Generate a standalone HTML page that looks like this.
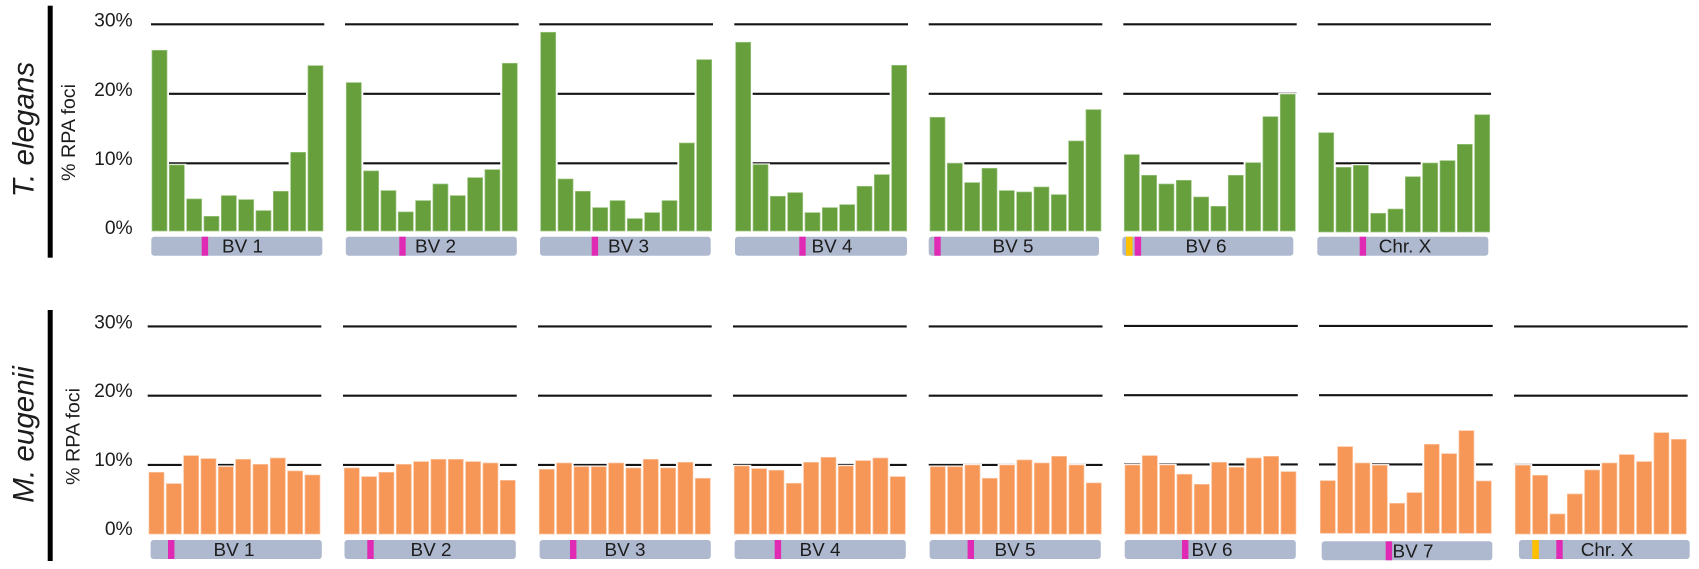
<!DOCTYPE html>
<html lang="en">
<head>
<meta charset="utf-8">
<title>RPA foci distribution across chromosomes</title>
<style>
html,body{margin:0;padding:0;background:#fff;width:1699px;height:569px;overflow:hidden}
svg{display:block}
text{font-family:"Liberation Sans",sans-serif;fill:#1c1c1c}
</style>
</head>
<body>
<svg id="chart" xmlns="http://www.w3.org/2000/svg" width="1699" height="569" viewBox="0 0 1699 569">
  <rect x="47.7" y="5.7" width="5" height="252" fill="#000"/>
  <rect x="47.7" y="310" width="5" height="251" fill="#000"/>
  <text transform="translate(33.3,197.3) rotate(-90)" font-size="29.6" font-style="italic">T. elegans</text>
  <text transform="translate(33.3,502.7) rotate(-90)" font-size="29.6" font-style="italic">M. eugenii</text>
  <text transform="translate(75,181) rotate(-90)" font-size="19.7">% RPA foci</text>
  <text transform="translate(79.3,485) rotate(-90)" font-size="19.7">% RPA foci</text>
</svg>
<script>
// ---- data: % RPA foci per bin ----
const tickValues = [0, 10, 20, 30];
const tickLabels = ['0%', '10%', '20%', '30%'];

const elegansNames = ['BV 1', 'BV 2', 'BV 3', 'BV 4', 'BV 5', 'BV 6', 'Chr. X'];
const elegansBV1 = [26.26, 9.76, 4.87, 2.37, 5.35, 4.77, 3.19, 5.97, 11.58, 24.05];
const elegansBV2 = [21.61, 8.90, 6.07, 3.00, 4.63, 7.02, 5.35, 7.94, 9.09, 24.39];
const elegansBV3 = [28.85, 7.74, 5.97, 3.62, 4.63, 2.04, 2.90, 4.63, 12.92, 24.91];
const elegansBV4 = [27.41, 9.81, 5.25, 5.78, 2.90, 3.62, 4.05, 6.69, 8.37, 24.10];
const elegansBV5 = [16.62, 10.00, 7.22, 9.28, 6.07, 5.87, 6.59, 5.49, 13.21, 17.72];
const elegansBV6 = [11.25, 8.27, 7.02, 7.55, 5.15, 3.81, 8.27, 10.09, 16.71, 19.93];
const elegansChrX = [14.40, 9.42, 9.71, 2.80, 3.42, 8.07, 10.04, 10.38, 12.73, 16.99];

const eugeniiNames = ['BV 1', 'BV 2', 'BV 3', 'BV 4', 'BV 5', 'BV 6', 'BV 7', 'Chr. X'];
const eugeniiBV1 = [8.94, 7.30, 11.34, 10.91, 9.75, 10.81, 10.09, 11.00, 9.13, 8.55];
const eugeniiBV2 = [9.56, 8.31, 8.94, 10.09, 10.48, 10.81, 10.81, 10.48, 10.28, 7.78];
const eugeniiBV3 = [9.37, 10.28, 9.75, 9.75, 10.28, 9.56, 10.81, 9.56, 10.38, 8.07];
const eugeniiBV4 = [9.85, 9.47, 9.23, 7.35, 10.38, 11.10, 9.85, 10.62, 11.00, 8.31];
const eugeniiBV5 = [9.75, 9.75, 9.99, 8.07, 9.99, 10.72, 10.28, 11.25, 9.99, 7.40];
const eugeniiBV6 = [9.99, 11.34, 9.99, 8.65, 7.20, 10.38, 9.66, 11.00, 11.25, 9.03];
const eugeniiBV7 = [7.73, 12.64, 10.28, 9.95, 4.46, 6.00, 12.98, 11.63, 14.95, 7.68];
const eugeniiChrX = [9.95, 8.50, 2.92, 5.81, 9.27, 10.28, 11.49, 10.48, 14.66, 13.70];

const elegansSeries = [elegansBV1, elegansBV2, elegansBV3, elegansBV4, elegansBV5, elegansBV6, elegansChrX];
const eugeniiSeries = [eugeniiBV1, eugeniiBV2, eugeniiBV3, eugeniiBV4, eugeniiBV5, eugeniiBV6, eugeniiBV7, eugeniiChrX];

// ---- layout (separate from data) ----
const SVG_NS = 'http://www.w3.org/2000/svg';
const chart = document.getElementById('chart');
const PITCH = 17.33, BAR_W = 15, HALO = 2, GREEN = '#679f3d', ORANGE = '#f79757';
const STRIP = '#aeb9cf', MAGENTA = '#e02ab4', YELLOW = '#ffc000';

const topLayout = {
  slug: 'elegans', color: GREEN, edge: '#9cc47f', y0: 232.8, step: 6.95, base: 231, stripY: 236.7,
  tickBase: [234, 165, 96, 26.7],
  panels: [
    {bar: 152, l0: 151, l1: 324.3, s0: 151.3, s1: 322.3, m: 201.7, tx: 242.5},
    {bar: 346.3, l0: 345, l1: 518.7, s0: 345.8, s1: 516.8, m: 399.3, tx: 435.5},
    {bar: 540.7, l0: 539.3, l1: 713, s0: 540, s1: 710.7, m: 591.7, tx: 628.5},
    {bar: 735.7, l0: 734.3, l1: 908, s0: 735, s1: 907, m: 799.3, tx: 832},
    {bar: 930, l0: 928.7, l1: 1102.3, s0: 928.7, s1: 1099, m: 934.3, tx: 1013},
    {bar: 1124.3, l0: 1123.3, l1: 1296.7, s0: 1122.3, s1: 1293.3, m: 1134.7, y: 1126, tx: 1206},
    {bar: 1318.7, l0: 1317.7, l1: 1491, s0: 1317.3, s1: 1488.3, m: 1359.7, tx: 1405, base: 232}
  ]
};
const bottomLayout = {
  slug: 'eugenii', color: ORANGE, edge: '#fbc4a0', y0: 534.2, step: 6.925, base: 534, stripY: 540,
  tickBase: [535, 466, 397, 328.3],
  panels: [
    {bar: 149, l0: 147.7, l1: 321.3, s0: 150.6, s1: 321.8, m: 168, tx: 234},
    {bar: 344.3, l0: 343, l1: 516.7, s0: 344.5, s1: 515.8, m: 367.3, tx: 431},
    {bar: 539.3, l0: 538, l1: 711.7, s0: 539.6, s1: 710.8, m: 570, tx: 625},
    {bar: 734.3, l0: 733, l1: 906.7, s0: 734.6, s1: 905.8, m: 774.7, tx: 820},
    {bar: 930.3, l0: 928.7, l1: 1102.5, s0: 929.6, s1: 1100.8, m: 967.6, tx: 1015},
    {bar: 1125, l0: 1124, l1: 1297.8, s0: 1124.7, s1: 1295.8, m: 1182, tx: 1212, dy: -0.5},
    {bar: 1320.3, l0: 1319, l1: 1492.7, s0: 1321.7, s1: 1492.3, m: 1385.7, tx: 1413, dy: -0.5, base: 533.3, stripY: 541.3},
    {bar: 1515.3, l0: 1514, l1: 1687.7, s0: 1519, s1: 1689.7, m: 1556.3, y: 1532.3, tx: 1607}
  ]
};

function make(tag, attrs, parent) {
  const el = document.createElementNS(SVG_NS, tag);
  for (const k in attrs) el.setAttribute(k, attrs[k]);
  parent.appendChild(el);
  return el;
}
function slugOf(name) {
  return name.toLowerCase().replace(/[^a-z0-9]+/g, '-').replace(/-$/, '');
}

function drawRow(layout, names, series) {
  const yScale = v => layout.y0 - v * layout.step;
  const xScale = (p, i) => p.bar + i * PITCH;

  tickValues.forEach((t, i) => {
    const label = make('text', {x: 132.7, y: layout.tickBase[i], 'text-anchor': 'end', 'font-size': 19.3}, chart);
    
    
    label.textContent = tickLabels[i];
  });

  layout.panels.forEach((p, pi) => {
    const dy = p.dy || 0;
    const base = p.base || layout.base;
    const slug = layout.slug + '-' + slugOf(names[pi]);
    const g = make('g', {}, chart);
    
    

    tickValues.filter(t => t > 0).forEach(t => {
      const line = make('line', {x1: p.l0, x2: p.l1, y1: yScale(t) + dy, y2: yScale(t) + dy, stroke: '#141414', 'stroke-width': 2.1}, g);
      
      
    });

    // white halo behind each bar hides the gridlines around it, as in the figure
    series[pi].forEach((v, i) => {
      const top = yScale(v);
      const halo = make('rect', {x: xScale(p, i) - HALO, y: top - 1.2, width: BAR_W + 2 * HALO, height: base - top + 1.2, fill: '#ffffff'}, g);
      
      
    });

    series[pi].forEach((v, i) => {
      const top = yScale(v);
      const bar = make('rect', {x: xScale(p, i), y: top, width: BAR_W, height: base - top, fill: layout.color, stroke: layout.edge, 'stroke-width': 0.7}, g);
      
      
    });

    const sy = p.stripY || layout.stripY;
    const strip = make('rect', {x: p.s0, y: sy, width: p.s1 - p.s0, height: 19, rx: 3, fill: STRIP}, g);
    
    

    if (p.y) {
      const yellowMark = make('rect', {x: p.y, y: sy, width: 6.5, height: 19, fill: YELLOW}, g);
      
      
    }
    const magentaMark = make('rect', {x: p.m, y: sy, width: 6.4, height: 19, fill: MAGENTA}, g);
    
    

    const label = make('text', {x: p.tx, y: sy + 16, 'text-anchor': 'middle', 'font-size': 18.9}, g);
    
    
    label.textContent = names[pi];
  });
}

drawRow(topLayout, elegansNames, elegansSeries);
drawRow(bottomLayout, eugeniiNames, eugeniiSeries);
</script>
</body>
</html>
